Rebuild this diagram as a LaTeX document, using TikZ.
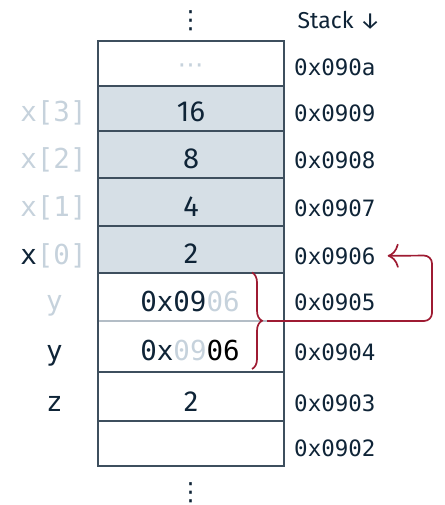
\documentclass[tikz,border=0pt]{standalone}
\usepackage{fontspec}
\setmainfont{Fira Sans}
\setmonofont{DejaVu Sans Mono}
\newfontfamily\dejavu{DejaVu Sans}
\usetikzlibrary{decorations.pathreplacing,arrows.meta}
\definecolor{ink}{HTML}{0F2437}
\definecolor{faint}{HTML}{C6D2DC}
\definecolor{cellfill}{HTML}{D6DFE6}
\definecolor{rulec}{HTML}{3E4F5E}
\definecolor{softrule}{HTML}{B3BDC6}
\definecolor{ptr}{HTML}{9E1B32}
\tikzset{
  addr/.style={anchor=base west, inner sep=0pt, text=ink, font=\ttfamily\fontsize{22.5}{27}\selectfont},
  val/.style={anchor=base, inner sep=0pt, text=ink, font=\fontsize{29}{34}\selectfont},
  mval/.style={anchor=base, inner sep=0pt, text=ink, font=\ttfamily\fontsize{27.5}{33}\selectfont},
  lab/.style={anchor=base, inner sep=0pt, text=ink, font=\ttfamily\fontsize{27.5}{33}\selectfont},
  rowline/.style={draw=rulec, line width=1.3pt},
  softline/.style={draw=softrule, line width=1.3pt},
  ptrline/.style={draw=ptr, line width=1.7pt},
  vdots/.style={inner sep=0pt, text=ink, font=\dejavu\fontsize{25}{30}\selectfont},
}
\begin{document}
\begin{tikzpicture}[x=1pt,y=-1pt]
\useasboundingbox (0,0) rectangle (444,505);
% cells
\fill[cellfill] (98,86) rectangle (284,273);
\foreach \yy in {86,131,178,226,273,372,421}
  \draw[rowline] (98,\yy) -- (284,\yy);
\draw[softline] (98,321) -- (284,321);
\draw[rowline] (98,41) rectangle (284,466);
% dots
\node[vdots] (dtop) at (190.7,20.7) {⋮};
\node[vdots] (dbot) at (190.7,492.7) {⋮};
\node[anchor=base west, inner sep=0pt, text=ink, font=\fontsize{23}{28}\selectfont] (stack) at (297.5,28.3) {Stack ↓};
% top cell
\node[inner sep=0pt, text=faint, font=\dejavu\fontsize{26}{30}\selectfont] (ell) at (190.7,68.5) {⋯};
% values
\node[val] (v2) at (191,121.7) {16};
\node[val] (v3) at (191,168.5) {8};
\node[val] (v4) at (191,216) {4};
\node[val] (v5) at (191,263.5) {2};
\node[mval] (v6) at (190,311.5) {{\color{ink}0x09}{\color{faint}06}};
\node[mval] (v7) at (190,360.3) {{\color{ink}0x}{\color{faint}09}{\color{black}06}};
\node[val] (v8) at (191,411.7) {2};
% addresses
\node[addr] (a1) at (294,75.7) {0x090a};
\node[addr] (a2) at (294,121.7) {0x0909};
\node[addr] (a3) at (294,168.3) {0x0908};
\node[addr] (a4) at (294,216) {0x0907};
\node[addr] (a5) at (294,264) {0x0906};
\node[addr] (a6) at (294,310.7) {0x0905};
\node[addr] (a7) at (294,360.7) {0x0904};
\node[addr] (a8) at (294,411.7) {0x0903};
\node[addr] (a9) at (294,456.7) {0x0902};
% labels
\node[lab, text=faint] (l2) at (53.5,121.7) {x[3]};
\node[lab, text=faint] (l3) at (53.5,168.3) {x[2]};
\node[lab, text=faint] (l4) at (53.5,216) {x[1]};
\node[lab] (l5) at (53.5,264) {{\color{ink}x}{\color{faint}[0]}};
\node[lab, text=faint] (l6) at (54.5,310.7) {y};
\node[lab] (l7) at (54.5,360.7) {y};
\node[lab] (l8) at (54.5,411.7) {z};
% brace and pointer
\draw[ptrline, decorate, decoration={brace, amplitude=10pt}] (252,272.5) -- (252,369);
\coordinate (bt) at (267,321);
\coordinate (tgt) at ([xshift=12pt]a5.east);
\draw[ptrline, rounded corners=8pt, -{Computer Modern Rightarrow[length=11pt,width=24pt,line width=1.7pt]}]
  (bt) -- (432,321) -- (432,255.5) -- (tgt);
\end{tikzpicture}
\end{document}
